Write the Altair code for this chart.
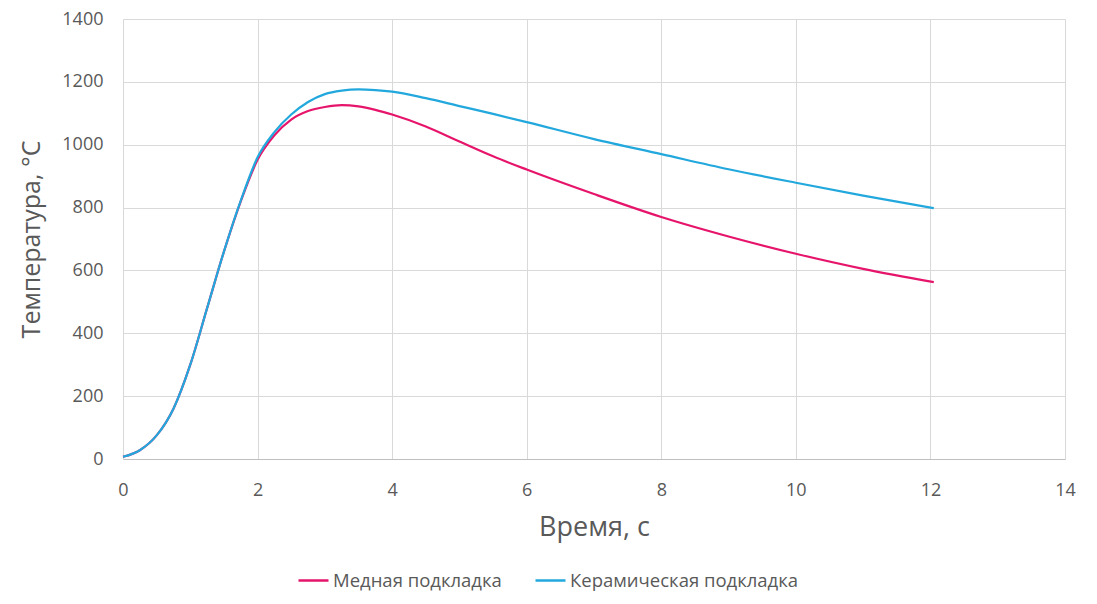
import altair as alt
import pandas as pd

# Time (s) and temperature (°C)
t_copper = [0, 0.25, 0.5, 0.75, 1.0, 1.25, 1.5, 1.75, 2.0, 2.25, 2.5, 2.75, 3.0, 3.25, 3.5, 3.75,
            4.0, 4.5, 5.0, 5.5, 6.0, 7.0, 8.0, 9.0, 10.0, 11.0, 12.05]
temp_copper = [7, 28, 75, 160, 300, 480, 660, 820, 952, 1030, 1080, 1107, 1120, 1126, 1122, 1111,
               1096, 1058, 1010, 963, 921, 843, 770, 708, 653, 605, 563]

t_ceramic = [0, 0.25, 0.5, 0.75, 1.0, 1.25, 1.5, 1.75, 2.0, 2.25, 2.5, 2.75, 3.0, 3.25, 3.5, 3.75,
             4.0, 4.5, 5.0, 5.5, 6.0, 7.0, 8.0, 9.0, 10.0, 11.0, 12.05]
temp_ceramic = [7, 28, 75, 160, 300, 480, 660, 822, 960, 1040, 1096, 1136, 1161, 1172, 1176, 1174,
                1169, 1148, 1123, 1098, 1072, 1018, 970, 922, 879, 838, 798]

series_names = ["Медная подкладка", "Керамическая подкладка"]
series_colors = ["#E6156B", "#22A8DC"]

rows = []
for t, v in zip(t_copper, temp_copper):
    rows.append({"t": t, "T": v, "s": series_names[0]})
for t, v in zip(t_ceramic, temp_ceramic):
    rows.append({"t": t, "T": v, "s": series_names[1]})
df = pd.DataFrame(rows)

FONT = "Open Sans"
GREY = "#595959"

chart = alt.Chart(df).mark_line(strokeWidth=2.2, interpolate="monotone").encode(
    x=alt.X("t:Q", title="Время, с",
            scale=alt.Scale(domain=[0, 14], nice=False),
            axis=alt.Axis(values=list(range(0, 15, 2)), grid=True, ticks=False, format="d",
                          labelFlush=False,
                          labelFontSize=18, labelColor=GREY, labelFont=FONT, labelPadding=22,
                          titleFontSize=27, titleFont=FONT, titleColor=GREY, titleFontWeight="normal",
                          titlePadding=15, domainColor="#BFBFBF", gridColor="#D9D9D9")),
    y=alt.Y("T:Q", title="Температура, °C",
            scale=alt.Scale(domain=[0, 1400], nice=False),
            axis=alt.Axis(values=list(range(0, 1401, 200)), grid=True, ticks=False, domain=False,
                          format="d", labelFlush=False,
                          labelFontSize=18, labelColor=GREY, labelFont=FONT, labelPadding=20,
                          titleFontSize=25, titleFont=FONT, titleColor=GREY, titleFontWeight="normal",
                          titlePadding=17, gridColor="#D9D9D9")),
    color=alt.Color("s:N", title=None,
                    scale=alt.Scale(domain=series_names, range=series_colors),
                    legend=alt.Legend(orient="none", legendX=174, legendY=545, direction="horizontal",
                                      symbolType="stroke", symbolSize=900, symbolStrokeWidth=2.5,
                                      labelFontSize=18.5, labelFont=FONT, labelColor=GREY,
                                      labelLimit=500, columnPadding=28, labelOffset=3)),
).properties(
    width=942, height=440,
    padding={"left": 115, "top": 11, "right": 24, "bottom": 134},
    autosize=alt.AutoSizeParams(type="none"),
).configure_view(stroke=None)

chart.save("out.html", embed_options={"renderer": "svg", "actions": False})
